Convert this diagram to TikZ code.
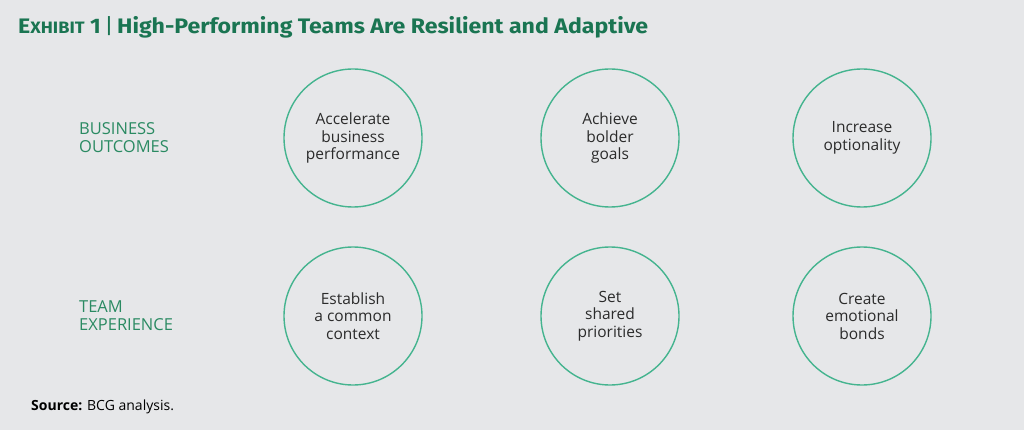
\documentclass[tikz,border=0pt]{standalone}
\usepackage{fontspec}
\setmainfont{Open Sans}
\newfontfamily\titlefont[FakeStretch=1.1]{Fira Sans}
\definecolor{bg}{HTML}{E6E7E9}
\definecolor{titlegreen}{HTML}{1A7552}
\definecolor{labelgreen}{HTML}{2A8A62}
\definecolor{ring}{HTML}{45B48F}
\definecolor{bodytext}{HTML}{2B2B2B}
\begin{document}
\begin{tikzpicture}[x=1pt,y=-1pt,
  ringnode/.style={circle,draw=ring,line width=1.4pt,minimum size=138pt,inner sep=0pt,align=center,
    font=\fontsize{15.5}{17.5}\selectfont,text=bodytext},
  rowlabel/.style={anchor=west,align=left,inner sep=0pt,font=\fontsize{16.5}{18}\selectfont,text=labelgreen}]
\fill[bg] (0,0) rectangle (1024,430);
\useasboundingbox (0,0) rectangle (1024,430);
\node[anchor=west,inner sep=0pt,text=titlegreen,font=\titlefont\bfseries\fontsize{21}{24}\selectfont] (title) at (18,27)
  {E{\fontsize{16.5}{18}\selectfont XHIBIT} 1\,{\fontseries{m}\selectfont|}\,High-Performing Teams Are Resilient and Adaptive};
\node[rowlabel] (bo) at (79,138) {BUSINESS\\OUTCOMES};
\node[rowlabel] (te) at (79,316) {TEAM\\EXPERIENCE};
\node[ringnode] (c1) at (353,138) {Accelerate\\business\\performance};
\node[ringnode] (c2) at (610,138) {Achieve\\bolder\\goals};
\node[ringnode] (c3) at (862,138) {Increase\\optionality};
\node[ringnode] (c4) at (353,316) {Establish\\a common\\context};
\node[ringnode] (c5) at (610,316) {Set\\shared\\priorities};
\node[ringnode] (c6) at (862,316) {Create\\emotional\\bonds};
\node[anchor=west,inner sep=0pt,text=black,font=\fontsize{14}{16}\selectfont] (src) at (31,407) {\textbf{Source:} BCG analysis.};
\end{tikzpicture}
\end{document}
